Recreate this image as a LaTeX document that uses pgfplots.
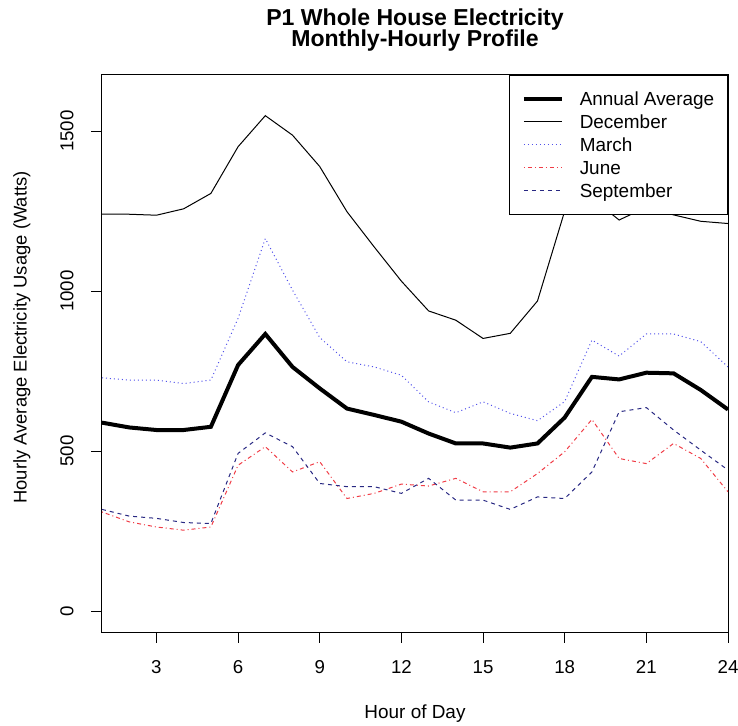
\documentclass[border=0pt]{standalone}
\usepackage{fontspec}
\setmainfont{Liberation Sans}
\usepackage{pgfplots}
\pgfplotsset{compat=1.18}
\definecolor{marchc}{RGB}{80,80,235}
\definecolor{junec}{RGB}{240,60,70}
\definecolor{sepc}{RGB}{40,40,130}

\pgfplotstableread{
h avg dec mar jun sep
1 589 1240 729 310 318
2 574 1240 722 279 297
3 566 1237 722 263 290
4 566 1257 711 253 277
5 576 1305 722 263 274
6 769 1451 915 456 493
7 866 1548 1164 514 557
8 763 1487 1003 435 514
9 696 1389 855 467 399
10 633 1248 779 352 389
11 613 1138 763 368 389
12 592 1031 737 397 368
13 555 938 654 391 415
14 524 909 620 415 347
15 524 852 654 373 347
16 511 868 618 373 318
17 524 969 595 430 357
18 605 1250 655 498 352
19 732 1290 847 599 435
20 724 1222 797 477 623
21 745 1262 866 461 636
22 743 1238 866 524 566
23 691 1218 842 477 503
24 630 1211 763 373 441
}\datatable

\begin{document}
\begin{tikzpicture}
\begin{axis}[
  at={(0,0)}, anchor=south west,
  scale only axis, width=469.5pt, height=417.75pt,
  xmin=1, xmax=24, ymin=-65, ymax=1675,
  xtick={3,6,...,24}, ytick={0,500,1000,1500},
  xtick pos=bottom, ytick pos=left,
  tick align=outside, major tick length=8pt,
  tick style={line width=0.75pt, black},
  axis line style={line width=0.75pt},
  /pgf/number format/assume math mode=true,
  /pgf/number format/1000 sep={},
  tick label style={font=\fontsize{14}{16}\selectfont},
  xticklabel style={anchor=center},
  yticklabel style={rotate=90, anchor=center},
  xticklabel shift=18.25pt,
  yticklabel shift=18.25pt,
  xlabel={Hour of Day},
  ylabel={Hourly Average Electricity Usage (Watts)},
  xlabel style={at={(axis description cs:0.5,-0.1472)}, anchor=center,
    font=\fontsize{14.2}{16}\selectfont},
  ylabel style={at={(axis description cs:-0.128,0.5287)}, anchor=center,
    font=\fontsize{13.8}{16}\selectfont},
  title={P1 Whole House Electricity\\Monthly-Hourly Profile},
  title style={at={(axis description cs:0.5,1.0271)}, anchor=south, align=center,
    yshift=0pt, inner sep=0pt,
    font=\fontsize{17.3}{16.2}\selectfont\bfseries},
  legend style={at={(1,1)}, anchor=north east, draw=black, line width=0.75pt,
    fill=white, font=\fontsize{14.2}{16}\selectfont, inner xsep=9pt, inner ysep=9pt,
    row sep=0pt, nodes={text height=12.7pt, text depth=2.5pt, inner sep=1pt},
    /tikz/every odd column/.append style={column sep=11pt}},
  legend cell align=left,
  legend image code/.code={\draw[#1] (0pt,0pt) -- (28.5pt,0pt);},
]
\addplot[black, line width=3pt] table[x=h, y=avg] {\datatable};
\addlegendentry{Annual Average}
\addplot[black, line width=0.75pt] table[x=h, y=dec] {\datatable};
\addlegendentry{December}
\addplot[marchc, line width=0.75pt, dash pattern=on 0.75pt off 2.25pt] table[x=h, y=mar] {\datatable};
\addlegendentry{March}
\addplot[junec, line width=0.75pt, dash pattern=on 0.75pt off 2.25pt on 3pt off 2.25pt] table[x=h, y=jun] {\datatable};
\addlegendentry{June}
\addplot[sepc, line width=0.75pt, dash pattern=on 3pt off 3pt] table[x=h, y=sep] {\datatable};
\addlegendentry{September}
\end{axis}
\pgfresetboundingbox
\path[use as bounding box] (-76.5pt,-69.75pt) rectangle (477pt,474pt);
\end{tikzpicture}
\end{document}
